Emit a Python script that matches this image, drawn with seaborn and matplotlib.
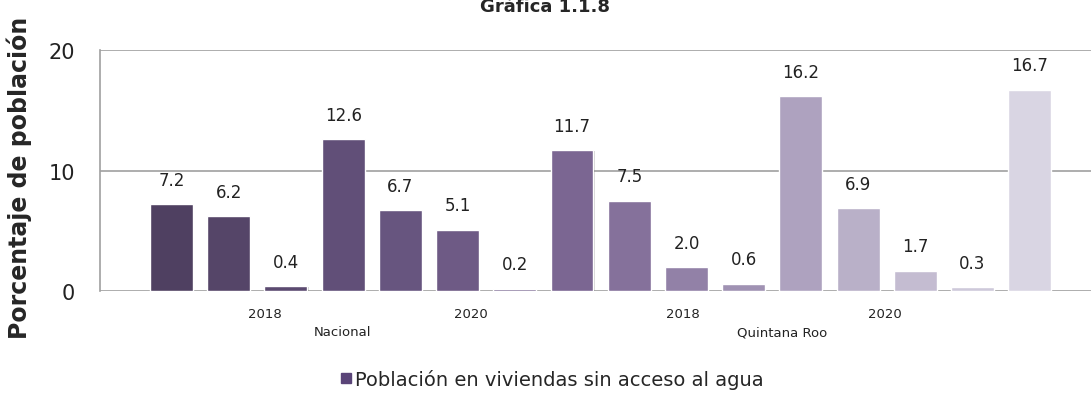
import matplotlib
matplotlib.use("Agg")
import matplotlib.pyplot as plt
import matplotlib.patheffects as pe
from matplotlib.lines import Line2D
import seaborn as sns
import pandas as pd

# values (percent of population)
bar_ids = list(range(16))
valores = [7.2, 6.2, 0.4, 12.6, 6.7, 5.1, 0.2, 11.7, 7.5, 2.0, 0.6, 16.2, 6.9, 1.7, 0.3, 16.7]
anios = ["2018", "2020", "2018", "2020"]
grupos = ["Nacional", "Quintana Roo"]
serie = "Población en viviendas sin acceso al agua"
titulo = "Gráfica 1.1.8"
ylabel = "Porcentaje de población"

df = pd.DataFrame({"id": bar_ids, "valor": valores})

sns.set_style("white")
plt.rcParams['font.family'] = ['DejaVu Sans']

# purple gradient, dark -> light
palette = sns.blend_palette(["#4f3b66", "#654c85", "#7e619c", "#b0a2c6", "#d8d3e5"], len(valores))

fig = plt.figure(figsize=(10.91, 4.06), dpi=100)
ax = fig.add_axes([100 / 1091, 1 - 292 / 406, 1 - 100 / 1091, (292 - 51) / 406])

sns.barplot(data=df, x="id", y="valor", hue="id", palette=palette, legend=False,
            width=0.75, edgecolor="white", linewidth=1.0, ax=ax, native_scale=True)

for patch in ax.patches:
    patch.set_path_effects([pe.SimplePatchShadow(offset=(0.8, -0.8), alpha=0.18, shadow_rgbFace="black"),
                            pe.Normal()])

for cont in ax.containers:
    ax.bar_label(cont, fmt="%.1f", padding=11, fontsize=12, color="#222222")

ax.set_xlim(-1.25, 16.07)
ax.set_ylim(0, 20)
ax.set_yticks([0, 10, 20])
ax.tick_params(axis="y", labelsize=15, length=6, color="#a0a0a0", width=1.2, pad=12, labelcolor="#222222")
ax.set_xticks([])
ax.set_xlabel("")
ax.set_ylabel(ylabel, fontsize=17, fontweight="bold")
ax.yaxis.set_label_coords(-0.069, 0.473)
ax.grid(axis="y", color="#a0a0a0", linewidth=1.2)
ax.set_axisbelow(True)
for s in ["top", "right", "bottom"]:
    ax.spines[s].set_visible(False)
ax.spines["left"].set_color("#a0a0a0")
ax.spines["left"].set_linewidth(1.2)

# multi-level category labels under the axis
trans = ax.get_xaxis_transform()
anio_pos = [1.63, 5.24, 8.94, 12.47]
grupo_pos = [2.98, 10.67]
for a, xp in zip(anios, anio_pos):
    ax.text(xp, -0.095, a, transform=trans, ha="center", va="center", fontsize=9.5, color="#222222")
for g, xp in zip(grupos, grupo_pos):
    ax.text(xp, -0.17, g, transform=trans, ha="center", va="center", fontsize=9.5, color="#222222")

fig.text(0.5, 1 - 12 / 406, titulo, ha="center", va="baseline", fontsize=13, fontweight="bold")

handle = Line2D([], [], marker="s", linestyle="", markersize=7, color="#5a4478")
fig.legend([handle], [serie], loc="center", bbox_to_anchor=(0.505, 1 - 380 / 406), frameon=False,
           fontsize=14, handletextpad=0.1, handlelength=0.8)

fig.savefig("out.png", dpi=100)
